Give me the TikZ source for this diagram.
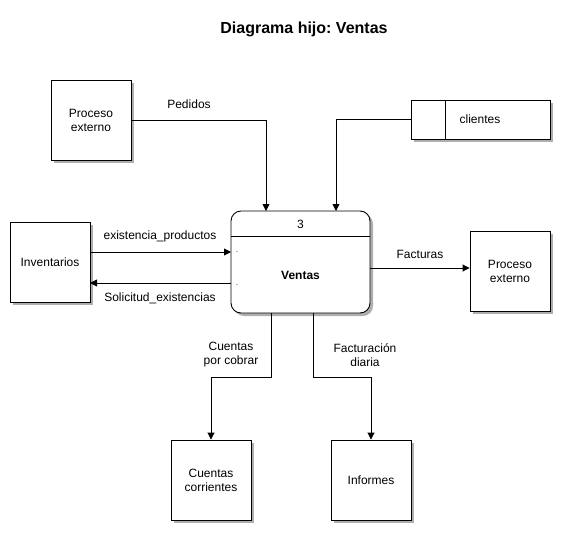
\documentclass[tikz,border=0pt]{standalone}
\usepackage{fontspec}
\setmainfont{Liberation Sans}
\frenchspacing
\usetikzlibrary{arrows.meta,shadows,positioning}
\begin{document}
\begin{tikzpicture}[x=1pt,y=-1pt,
  every node/.style={font=\fontsize{12}{14}\selectfont, inner sep=0pt},
  ent/.style={draw, line width=0.9pt, fill=white, minimum width=80pt, minimum height=80pt, align=center,
    drop shadow={shadow xshift=3pt, shadow yshift=-3pt, fill=black!45, opacity=0.7}},
  flow/.style={draw, line width=0.9pt, -{Triangle[length=7pt,width=7pt]}},
  lbl/.style={align=center}]
\useasboundingbox (0,0) rectangle (564,535);
\node[font=\fontsize{16}{18}\selectfont\bfseries] (title) at (304,29) {Diagrama hijo: Ventas};
% entities
\node[ent] (pe1) at (91,120) {Proceso\\externo};
\node[ent] (inv) at (50,262) {Inventarios};
\node[ent] (pe2) at (510,271) {Proceso\\externo};
\node[ent] (cc) at (211,480) {Cuentas\\corrientes};
\node[ent] (inf) at (371,480) {Informes};
% data store
\node[draw, line width=0.9pt, fill=white, minimum width=139pt, minimum height=39pt,
  drop shadow={shadow xshift=3pt, shadow yshift=-3pt, fill=black!45, opacity=0.7}] (cli) at (480.5,119.5) {};
\draw[line width=0.9pt] (445,100) -- (445,139);
\node (clit) at (480,119.5) {clientes};
% process
\node[draw, line width=0.9pt, fill=white, rounded corners=10pt, minimum width=139pt, minimum height=102pt,
  drop shadow={shadow xshift=3pt, shadow yshift=-3pt, fill=black!45, opacity=0.7}] (ven) at (300.5,262) {};
\draw[line width=0.9pt] (231,236) -- (370,236);
\node (num) at (300.5,224) {3};
\node[font=\fontsize{12}{14}\selectfont\bfseries] (vent) at (300.5,275) {Ventas};
\node[font=\fontsize{7}{8}\selectfont] (d1) at (237,252) {.};
\node[font=\fontsize{7}{8}\selectfont] (d2) at (237,285) {.};
% connectors
\coordinate (ped) at (266,211);
\coordinate (clin) at (336,211);
\draw[flow] (pe1.east) -| (ped);
\draw[flow] (cli.west) -| (clin);
\node[lbl] (lped) at (189,104) {Pedidos};
\coordinate (ep1) at (90,252);
\coordinate (ep2) at (231,252);
\draw[flow] (ep1) -- (ep2);
\node[lbl] (lep) at (160,236) {existencia\_productos};
\coordinate (se1) at (231,283);
\coordinate (se2) at (90,283);
\draw[flow] (se1) -- (se2);
\node[lbl] (lse) at (160,298) {Solicitud\_existencias};
\coordinate (fa1) at (370,268);
\draw[flow] (fa1) -- (pe2.west |- fa1);
\node[lbl] (lfa) at (420,254) {Facturas};
\coordinate (cp1) at (271,313);
\draw[flow] (cp1) -- (271,377) -| (cc.north);
\node[lbl] (lcp) at (231,355) {Cuentas\\por cobrar};
\coordinate (fd1) at (313,313);
\draw[flow] (fd1) -- (313,377) -| (inf.north);
\node[lbl] (lfd) at (365,355) {Facturación\\diaria};
\end{tikzpicture}
\end{document}
